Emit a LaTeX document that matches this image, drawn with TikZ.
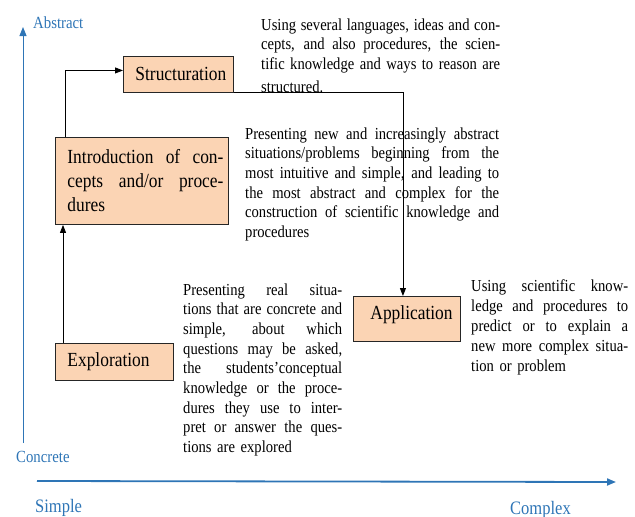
\documentclass[tikz,border=0pt]{standalone}
\usepackage{fontspec}
\setmainfont{Liberation Serif}[FakeStretch=0.87]
\usetikzlibrary{arrows.meta}
\definecolor{peach}{HTML}{FBD4B4}
\definecolor{axisblue}{HTML}{2E75B6}
\newcommand\jl[2]{\leavevmode\hbox to #1{\spaceskip=\fontdimen2\font plus 4\fontdimen2\font minus 0.3\fontdimen2\font\relax #2}}
\begin{document}
\begin{tikzpicture}[x=1pt,y=-1pt,
  stagebox/.style={draw=black!85, fill=peach, line width=0.9pt, inner xsep=0pt, inner ysep=0pt, align=left, font=\fontsize{20}{24}\selectfont},
  desc/.style={inner sep=0pt, align=left, anchor=base west, font=\fontsize{16.8}{19.7}\selectfont},
  flow/.style={line width=0.9pt, -{Triangle[length=8pt,width=6pt]}},
  axis/.style={draw=axisblue, -{Triangle[length=9pt,width=7pt]}},
  axislabel/.style={text=axisblue, inner sep=0pt, anchor=base west}
]
\useasboundingbox (0,0) rectangle (635,517);

% axes
\coordinate (ybot) at (23,443);
\coordinate (ytop) at (23,27);
\coordinate (xleft) at (37,481);
\coordinate (xright) at (616,482);
\draw[axis, line width=1pt] (ybot) -- (ytop);
\draw[axis, line width=1.8pt] (xleft) -- (xright);
\node[axislabel, font=\fontsize{17}{20}\selectfont] (abstract) at (33,28) {Abstract};
\node[axislabel, font=\fontsize{17}{20}\selectfont] (concrete) at (16,462) {Concrete};
\node[axislabel, font=\fontsize{19}{22}\selectfont] (simple) at (35,512) {Simple};
\node[axislabel, font=\fontsize{19}{22}\selectfont] (complex) at (510,514) {Complex};

% stage boxes
\node[stagebox, minimum height=36pt, text width=110pt, anchor=north west] (struct) at (123,56) {\hspace*{12pt}Structuration};
\node[stagebox, minimum height=87pt, text width=173pt, anchor=north west] (intro) at (55,137)
  {\hspace*{12pt}\jl{156pt}{Introduction of con-}\\
   \hspace*{12pt}\jl{156pt}{cepts and/or proce-}\\
   \hspace*{12pt}dures};
\node[stagebox, minimum height=37pt, text width=118pt, anchor=north west] (explo) at (55,343) {\hspace*{12pt}Exploration};
\node[stagebox, minimum height=45pt, text width=107pt, anchor=north west] (appl) at (353,296) {\hspace*{17pt}Application\rule[-12pt]{0pt}{1pt}};

% connectors
\draw[flow] ([xshift=8pt]explo.north west) -- ([xshift=8pt]intro.south west);
\draw[flow] ([xshift=10pt]intro.north west) |- ([yshift=4pt]struct.west);
\draw[flow] (struct.south east) -| ([xshift=-4pt]appl.north);

% descriptions
\node[desc, text width=239pt] (t1) at (261,30)
  {\jl{239pt}{Using several languages, ideas and con-}\\
   \jl{239pt}{cepts, and also procedures, the scien-}\\
   \jl{239pt}{tific knowledge and ways to reason are}\\[3pt]
   structured.};
\node[desc, text width=254pt] (t2) at (245,139)
  {\jl{254pt}{Presenting new and increasingly abstract}\\
   \jl{254pt}{situations/problems beginning from the}\\
   \jl{254pt}{most intuitive and simple, and leading to}\\
   \jl{254pt}{the most abstract and complex for the}\\
   \jl{254pt}{construction of scientific knowledge and}\\
   procedures};
\node[desc, text width=159pt] (t3) at (183,295)
  {\jl{159pt}{Presenting real situa-}\\
   \jl{159pt}{tions that are concrete and}\\
   \jl{159pt}{simple, about which}\\
   \jl{159pt}{questions may be asked,}\\
   \jl{159pt}{the students’conceptual}\\
   \jl{159pt}{knowledge or the proce-}\\
   \jl{159pt}{dures they use to inter-}\\
   \jl{159pt}{pret or answer the ques-}\\
   tions are explored};
\node[desc, text width=157pt, font=\fontsize{16.8}{20.2}\selectfont] (t4) at (471,291)
  {\jl{157pt}{Using scientific know-}\\
   \jl{157pt}{ledge and procedures to}\\
   \jl{157pt}{predict or to explain a}\\
   \jl{157pt}{new more complex situa-}\\
   tion or problem};
\end{tikzpicture}
\end{document}
